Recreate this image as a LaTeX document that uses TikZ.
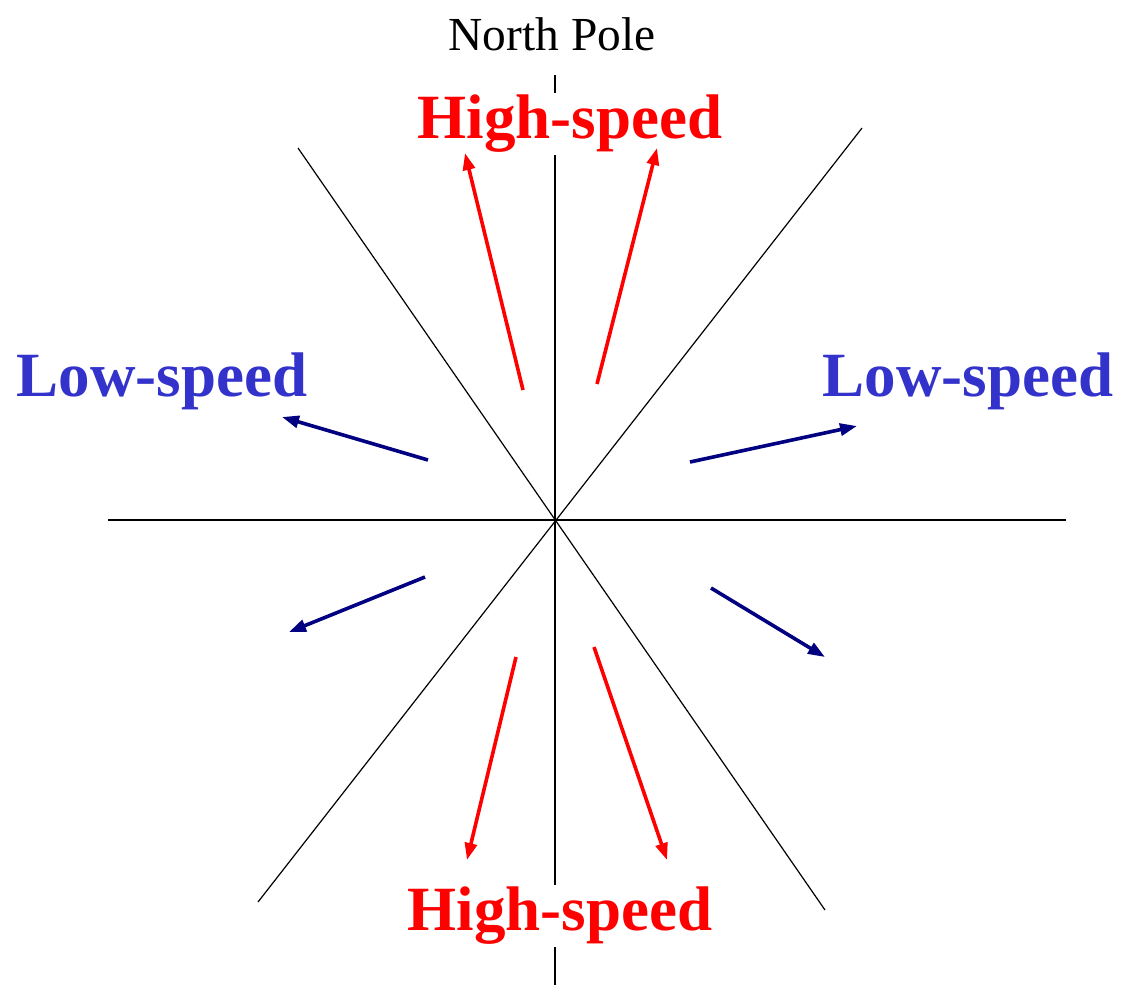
\documentclass[tikz,border=0pt]{standalone}
\usepackage{fontspec}
\setmainfont{Liberation Serif}
\usepackage{tikz}
\usetikzlibrary{arrows.meta}
\definecolor{slowblue}{HTML}{3333CC}
\definecolor{navyblue}{HTML}{000080}

\begin{document}
\begin{tikzpicture}[x=0.5pt,y=-0.5pt]

% --- STYLES ---
\tikzset{
  axis/.style={black, line width=0.6pt},
  poleaxis/.style={black, line width=1pt},
  fastlabel/.style={font=\fontsize{31.5}{36}\selectfont\bfseries, text=red,
                    fill=white, inner sep=1pt},
  slowlabel/.style={font=\fontsize{31.5}{36}\selectfont\bfseries, text=slowblue,
                    inner sep=1pt},
  polelabel/.style={font=\fontsize{23.7}{28}\selectfont},
  fastflow/.style={red, line width=1.8pt, -{Triangle[length=8.5pt, width=6pt]}},
  slowflow/.style={navyblue, line width=1.8pt, -{Triangle[length=8.5pt, width=6pt]}},
}

\useasboundingbox (0,0) rectangle (1124,987);

% ================= AXES =================
\coordinate (ctr)  at (555,520);
\coordinate (ntop) at (555,75);
\coordinate (nbot) at (555,985);
\coordinate (west) at (108,520);
\coordinate (east) at (1066,520);
\coordinate (nw)   at (298,148);
\coordinate (se)   at (825,910);
\coordinate (ne)   at (862,128);
\coordinate (sw)   at (258,902);

\draw[poleaxis] (ntop) -- (nbot);
\draw[axis] (west) -- (east);
\draw[axis] (nw) -- (se);
\draw[axis] (ne) -- (sw);

% ================= LABELS =================
\node[polelabel] (pole) at (552,34) {North Pole};
\node[fastlabel] (hstop) at (570,124) {High-speed};
\node[fastlabel] (hsbot) at (560,916) {High-speed};
\node[slowlabel] (lsleft)  at (162,381) {Low-speed};
\node[slowlabel] (lsright) at (968,381) {Low-speed};

% ================= FLOW ARROWS =================
\foreach \n/\a/\b/\c/\d in {
    fa/523/390/465/153, fb/597/384/657/148,
    fc/516/657/467/860, fd/594/647/667/860
} {
    \coordinate (\n s) at (\a,\b);
    \coordinate (\n e) at (\c,\d);
    \draw[fastflow] (\n s) -- (\n e);
}

\foreach \n/\a/\b/\c/\d in {
    sa/428/460/282/417, sb/690/462/857/426,
    sc/425/577/289/632, sd/711/588/825/657
} {
    \coordinate (\n s) at (\a,\b);
    \coordinate (\n e) at (\c,\d);
    \draw[slowflow] (\n s) -- (\n e);
}

\end{tikzpicture}
\end{document}
